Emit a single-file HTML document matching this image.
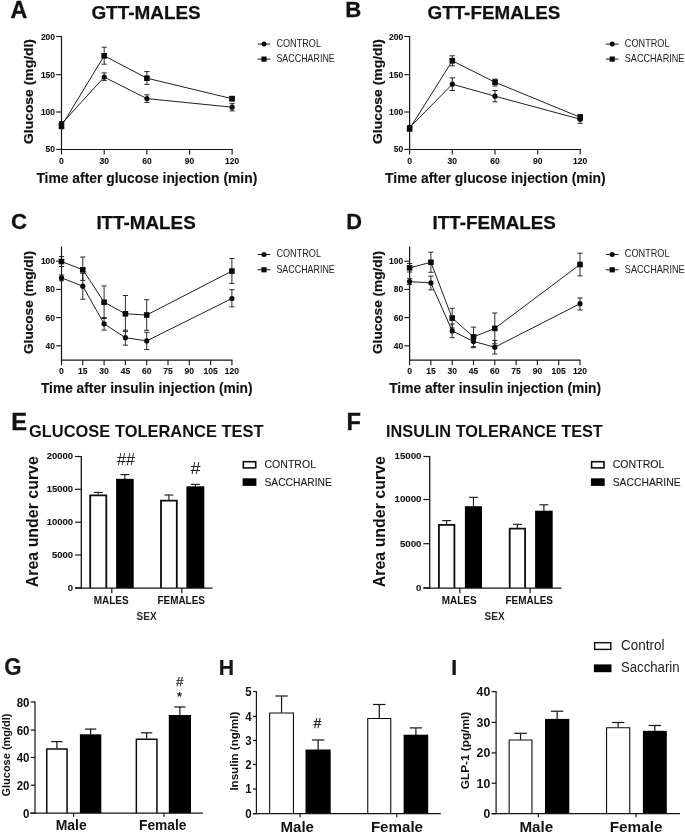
<!DOCTYPE html>
<html><head><meta charset="utf-8"><title>Figure</title>
<style>
html,body{margin:0;padding:0;background:#fff;width:685px;height:834px;overflow:hidden;}
svg{display:block;position:absolute;left:0;top:0;font-family:"Liberation Sans",sans-serif;will-change:transform;filter:grayscale(1) blur(0.3px);}
</style></head>
<body>
<svg width="685" height="834" viewBox="0 0 685 834">
<rect x="0" y="0" width="685" height="834" fill="#ffffff"/>
<text x="10.6" y="17.5" font-size="23.3" font-weight="bold" stroke="#111" stroke-width="0.3" stroke-linejoin="round" fill="#111" >A</text>
<text x="91.4" y="18.9" font-size="19.2" font-weight="bold" stroke="#111" stroke-width="0.25" stroke-linejoin="round" textLength="109.3" lengthAdjust="spacingAndGlyphs" fill="#111" >GTT-MALES</text>
<line x1="61.50" y1="36.00" x2="61.50" y2="150.10" stroke="#141414" stroke-width="1.2" stroke-linecap="butt"/>
<line x1="60.90" y1="149.50" x2="232.70" y2="149.50" stroke="#141414" stroke-width="1.2" stroke-linecap="butt"/>
<line x1="56.20" y1="36.50" x2="61.50" y2="36.50" stroke="#141414" stroke-width="1.1" stroke-linecap="butt"/>
<text x="55.0" y="39.5" font-size="9.7" font-weight="bold" stroke="#111" stroke-width="0.12" stroke-linejoin="round" text-anchor="end" textLength="14.1" lengthAdjust="spacingAndGlyphs" fill="#111" >200</text>
<line x1="56.20" y1="74.70" x2="61.50" y2="74.70" stroke="#141414" stroke-width="1.1" stroke-linecap="butt"/>
<text x="55.0" y="77.7" font-size="9.7" font-weight="bold" stroke="#111" stroke-width="0.12" stroke-linejoin="round" text-anchor="end" textLength="14.1" lengthAdjust="spacingAndGlyphs" fill="#111" >150</text>
<line x1="56.20" y1="112.00" x2="61.50" y2="112.00" stroke="#141414" stroke-width="1.1" stroke-linecap="butt"/>
<text x="55.0" y="115.0" font-size="9.7" font-weight="bold" stroke="#111" stroke-width="0.12" stroke-linejoin="round" text-anchor="end" textLength="14.1" lengthAdjust="spacingAndGlyphs" fill="#111" >100</text>
<line x1="56.20" y1="149.40" x2="61.50" y2="149.40" stroke="#141414" stroke-width="1.1" stroke-linecap="butt"/>
<text x="55.0" y="152.4" font-size="9.7" font-weight="bold" stroke="#111" stroke-width="0.12" stroke-linejoin="round" text-anchor="end" textLength="9.4" lengthAdjust="spacingAndGlyphs" fill="#111" >50</text>
<line x1="61.50" y1="149.50" x2="61.50" y2="154.50" stroke="#141414" stroke-width="1.1" stroke-linecap="butt"/>
<text x="61.5" y="164.0" font-size="9.8" font-weight="bold" stroke="#111" stroke-width="0.12" stroke-linejoin="round" text-anchor="middle" textLength="4.8" lengthAdjust="spacingAndGlyphs" fill="#111" >0</text>
<line x1="104.20" y1="149.50" x2="104.20" y2="154.50" stroke="#141414" stroke-width="1.1" stroke-linecap="butt"/>
<text x="104.2" y="164.0" font-size="9.8" font-weight="bold" stroke="#111" stroke-width="0.12" stroke-linejoin="round" text-anchor="middle" textLength="9.5" lengthAdjust="spacingAndGlyphs" fill="#111" >30</text>
<line x1="146.90" y1="149.50" x2="146.90" y2="154.50" stroke="#141414" stroke-width="1.1" stroke-linecap="butt"/>
<text x="146.9" y="164.0" font-size="9.8" font-weight="bold" stroke="#111" stroke-width="0.12" stroke-linejoin="round" text-anchor="middle" textLength="9.5" lengthAdjust="spacingAndGlyphs" fill="#111" >60</text>
<line x1="189.60" y1="149.50" x2="189.60" y2="154.50" stroke="#141414" stroke-width="1.1" stroke-linecap="butt"/>
<text x="189.6" y="164.0" font-size="9.8" font-weight="bold" stroke="#111" stroke-width="0.12" stroke-linejoin="round" text-anchor="middle" textLength="9.5" lengthAdjust="spacingAndGlyphs" fill="#111" >90</text>
<line x1="232.10" y1="149.50" x2="232.10" y2="154.50" stroke="#141414" stroke-width="1.1" stroke-linecap="butt"/>
<text x="232.1" y="164.0" font-size="9.8" font-weight="bold" stroke="#111" stroke-width="0.12" stroke-linejoin="round" text-anchor="middle" textLength="14.2" lengthAdjust="spacingAndGlyphs" fill="#111" >120</text>
<text x="36.4" y="182.6" font-size="14.2" font-weight="bold" stroke="#111" stroke-width="0.12" stroke-linejoin="round" textLength="220.9" lengthAdjust="spacingAndGlyphs" fill="#111" >Time after glucose injection (min)</text>
<text x="0" y="0" font-size="13.6" font-weight="bold" stroke="#111" stroke-width="0.2" stroke-linejoin="round" text-anchor="middle" textLength="105.0" lengthAdjust="spacingAndGlyphs" transform="translate(32.7,91.5) rotate(-90)" fill="#111" >Glucose (mg/dl)</text>
<polyline points="61.50,123.90 104.20,77.10 146.90,98.60 232.10,107.20" fill="none" stroke="#141414" stroke-width="0.95"/>
<polyline points="61.50,126.00 104.20,55.80 146.90,78.20 232.10,98.70" fill="none" stroke="#141414" stroke-width="0.95"/>
<line x1="61.50" y1="121.50" x2="61.50" y2="126.30" stroke="#141414" stroke-width="0.9" stroke-linecap="butt"/>
<line x1="58.90" y1="121.50" x2="64.10" y2="121.50" stroke="#141414" stroke-width="0.9" stroke-linecap="butt"/>
<line x1="58.90" y1="126.30" x2="64.10" y2="126.30" stroke="#141414" stroke-width="0.9" stroke-linecap="butt"/>
<line x1="104.20" y1="72.90" x2="104.20" y2="80.60" stroke="#141414" stroke-width="0.9" stroke-linecap="butt"/>
<line x1="101.60" y1="72.90" x2="106.80" y2="72.90" stroke="#141414" stroke-width="0.9" stroke-linecap="butt"/>
<line x1="101.60" y1="80.60" x2="106.80" y2="80.60" stroke="#141414" stroke-width="0.9" stroke-linecap="butt"/>
<line x1="146.90" y1="94.80" x2="146.90" y2="102.40" stroke="#141414" stroke-width="0.9" stroke-linecap="butt"/>
<line x1="144.30" y1="94.80" x2="149.50" y2="94.80" stroke="#141414" stroke-width="0.9" stroke-linecap="butt"/>
<line x1="144.30" y1="102.40" x2="149.50" y2="102.40" stroke="#141414" stroke-width="0.9" stroke-linecap="butt"/>
<line x1="232.10" y1="103.60" x2="232.10" y2="110.90" stroke="#141414" stroke-width="0.9" stroke-linecap="butt"/>
<line x1="229.50" y1="103.60" x2="234.70" y2="103.60" stroke="#141414" stroke-width="0.9" stroke-linecap="butt"/>
<line x1="229.50" y1="110.90" x2="234.70" y2="110.90" stroke="#141414" stroke-width="0.9" stroke-linecap="butt"/>
<line x1="61.50" y1="123.20" x2="61.50" y2="128.80" stroke="#141414" stroke-width="0.9" stroke-linecap="butt"/>
<line x1="58.90" y1="123.20" x2="64.10" y2="123.20" stroke="#141414" stroke-width="0.9" stroke-linecap="butt"/>
<line x1="58.90" y1="128.80" x2="64.10" y2="128.80" stroke="#141414" stroke-width="0.9" stroke-linecap="butt"/>
<line x1="104.20" y1="47.20" x2="104.20" y2="64.20" stroke="#141414" stroke-width="0.9" stroke-linecap="butt"/>
<line x1="101.60" y1="47.20" x2="106.80" y2="47.20" stroke="#141414" stroke-width="0.9" stroke-linecap="butt"/>
<line x1="101.60" y1="64.20" x2="106.80" y2="64.20" stroke="#141414" stroke-width="0.9" stroke-linecap="butt"/>
<line x1="146.90" y1="71.60" x2="146.90" y2="84.40" stroke="#141414" stroke-width="0.9" stroke-linecap="butt"/>
<line x1="144.30" y1="71.60" x2="149.50" y2="71.60" stroke="#141414" stroke-width="0.9" stroke-linecap="butt"/>
<line x1="144.30" y1="84.40" x2="149.50" y2="84.40" stroke="#141414" stroke-width="0.9" stroke-linecap="butt"/>
<line x1="232.10" y1="96.40" x2="232.10" y2="101.00" stroke="#141414" stroke-width="0.9" stroke-linecap="butt"/>
<line x1="229.50" y1="96.40" x2="234.70" y2="96.40" stroke="#141414" stroke-width="0.9" stroke-linecap="butt"/>
<line x1="229.50" y1="101.00" x2="234.70" y2="101.00" stroke="#141414" stroke-width="0.9" stroke-linecap="butt"/>
<circle cx="61.50" cy="123.90" r="2.6" fill="#0a0a0a"/>
<circle cx="104.20" cy="77.10" r="2.6" fill="#0a0a0a"/>
<circle cx="146.90" cy="98.60" r="2.6" fill="#0a0a0a"/>
<circle cx="232.10" cy="107.20" r="2.6" fill="#0a0a0a"/>
<rect x="58.70" y="123.20" width="5.60" height="5.60" fill="#0a0a0a"/>
<rect x="101.40" y="53.00" width="5.60" height="5.60" fill="#0a0a0a"/>
<rect x="144.10" y="75.40" width="5.60" height="5.60" fill="#0a0a0a"/>
<rect x="229.30" y="95.90" width="5.60" height="5.60" fill="#0a0a0a"/>
<line x1="257.70" y1="44.10" x2="270.30" y2="44.10" stroke="#141414" stroke-width="1.0" stroke-linecap="butt"/>
<line x1="257.70" y1="59.10" x2="270.30" y2="59.10" stroke="#141414" stroke-width="1.0" stroke-linecap="butt"/>
<circle cx="264.00" cy="44.10" r="2.5" fill="#0a0a0a"/>
<rect x="261.40" y="56.50" width="5.20" height="5.20" fill="#0a0a0a"/>
<text x="276.4" y="47.0" font-size="10.8" textLength="44.6" lengthAdjust="spacingAndGlyphs" fill="#222" >CONTROL</text>
<text x="276.4" y="62.2" font-size="10.8" textLength="58.4" lengthAdjust="spacingAndGlyphs" fill="#222" >SACCHARINE</text>
<text x="345.3" y="17.2" font-size="22.2" font-weight="bold" stroke="#111" stroke-width="0.3" stroke-linejoin="round" fill="#111" >B</text>
<text x="427.5" y="18.9" font-size="19.2" font-weight="bold" stroke="#111" stroke-width="0.25" stroke-linejoin="round" textLength="132.9" lengthAdjust="spacingAndGlyphs" fill="#111" >GTT-FEMALES</text>
<line x1="409.60" y1="36.00" x2="409.60" y2="150.10" stroke="#141414" stroke-width="1.2" stroke-linecap="butt"/>
<line x1="409.00" y1="149.50" x2="580.80" y2="149.50" stroke="#141414" stroke-width="1.2" stroke-linecap="butt"/>
<line x1="404.30" y1="36.50" x2="409.60" y2="36.50" stroke="#141414" stroke-width="1.1" stroke-linecap="butt"/>
<text x="403.1" y="39.5" font-size="9.7" font-weight="bold" stroke="#111" stroke-width="0.12" stroke-linejoin="round" text-anchor="end" textLength="14.1" lengthAdjust="spacingAndGlyphs" fill="#111" >200</text>
<line x1="404.30" y1="74.70" x2="409.60" y2="74.70" stroke="#141414" stroke-width="1.1" stroke-linecap="butt"/>
<text x="403.1" y="77.7" font-size="9.7" font-weight="bold" stroke="#111" stroke-width="0.12" stroke-linejoin="round" text-anchor="end" textLength="14.1" lengthAdjust="spacingAndGlyphs" fill="#111" >150</text>
<line x1="404.30" y1="112.00" x2="409.60" y2="112.00" stroke="#141414" stroke-width="1.1" stroke-linecap="butt"/>
<text x="403.1" y="115.0" font-size="9.7" font-weight="bold" stroke="#111" stroke-width="0.12" stroke-linejoin="round" text-anchor="end" textLength="14.1" lengthAdjust="spacingAndGlyphs" fill="#111" >100</text>
<line x1="404.30" y1="149.40" x2="409.60" y2="149.40" stroke="#141414" stroke-width="1.1" stroke-linecap="butt"/>
<text x="403.1" y="152.4" font-size="9.7" font-weight="bold" stroke="#111" stroke-width="0.12" stroke-linejoin="round" text-anchor="end" textLength="9.4" lengthAdjust="spacingAndGlyphs" fill="#111" >50</text>
<line x1="409.60" y1="149.50" x2="409.60" y2="154.50" stroke="#141414" stroke-width="1.1" stroke-linecap="butt"/>
<text x="409.6" y="164.0" font-size="9.8" font-weight="bold" stroke="#111" stroke-width="0.12" stroke-linejoin="round" text-anchor="middle" textLength="4.8" lengthAdjust="spacingAndGlyphs" fill="#111" >0</text>
<line x1="452.30" y1="149.50" x2="452.30" y2="154.50" stroke="#141414" stroke-width="1.1" stroke-linecap="butt"/>
<text x="452.3" y="164.0" font-size="9.8" font-weight="bold" stroke="#111" stroke-width="0.12" stroke-linejoin="round" text-anchor="middle" textLength="9.5" lengthAdjust="spacingAndGlyphs" fill="#111" >30</text>
<line x1="495.00" y1="149.50" x2="495.00" y2="154.50" stroke="#141414" stroke-width="1.1" stroke-linecap="butt"/>
<text x="495.0" y="164.0" font-size="9.8" font-weight="bold" stroke="#111" stroke-width="0.12" stroke-linejoin="round" text-anchor="middle" textLength="9.5" lengthAdjust="spacingAndGlyphs" fill="#111" >60</text>
<line x1="537.70" y1="149.50" x2="537.70" y2="154.50" stroke="#141414" stroke-width="1.1" stroke-linecap="butt"/>
<text x="537.7" y="164.0" font-size="9.8" font-weight="bold" stroke="#111" stroke-width="0.12" stroke-linejoin="round" text-anchor="middle" textLength="9.5" lengthAdjust="spacingAndGlyphs" fill="#111" >90</text>
<line x1="580.20" y1="149.50" x2="580.20" y2="154.50" stroke="#141414" stroke-width="1.1" stroke-linecap="butt"/>
<text x="580.2" y="164.0" font-size="9.8" font-weight="bold" stroke="#111" stroke-width="0.12" stroke-linejoin="round" text-anchor="middle" textLength="14.2" lengthAdjust="spacingAndGlyphs" fill="#111" >120</text>
<text x="385.1" y="182.6" font-size="14.2" font-weight="bold" stroke="#111" stroke-width="0.12" stroke-linejoin="round" textLength="220.5" lengthAdjust="spacingAndGlyphs" fill="#111" >Time after glucose injection (min)</text>
<text x="0" y="0" font-size="13.6" font-weight="bold" stroke="#111" stroke-width="0.2" stroke-linejoin="round" text-anchor="middle" textLength="105.0" lengthAdjust="spacingAndGlyphs" transform="translate(381.9,91.5) rotate(-90)" fill="#111" >Glucose (mg/dl)</text>
<polyline points="409.60,127.60 452.30,84.20 495.00,96.20 580.20,119.20" fill="none" stroke="#141414" stroke-width="0.95"/>
<polyline points="409.60,128.80 452.30,60.80 495.00,82.20 580.20,117.30" fill="none" stroke="#141414" stroke-width="0.95"/>
<line x1="409.60" y1="125.60" x2="409.60" y2="129.60" stroke="#141414" stroke-width="0.9" stroke-linecap="butt"/>
<line x1="407.00" y1="125.60" x2="412.20" y2="125.60" stroke="#141414" stroke-width="0.9" stroke-linecap="butt"/>
<line x1="407.00" y1="129.60" x2="412.20" y2="129.60" stroke="#141414" stroke-width="0.9" stroke-linecap="butt"/>
<line x1="452.30" y1="77.90" x2="452.30" y2="90.50" stroke="#141414" stroke-width="0.9" stroke-linecap="butt"/>
<line x1="449.70" y1="77.90" x2="454.90" y2="77.90" stroke="#141414" stroke-width="0.9" stroke-linecap="butt"/>
<line x1="449.70" y1="90.50" x2="454.90" y2="90.50" stroke="#141414" stroke-width="0.9" stroke-linecap="butt"/>
<line x1="495.00" y1="90.50" x2="495.00" y2="101.80" stroke="#141414" stroke-width="0.9" stroke-linecap="butt"/>
<line x1="492.40" y1="90.50" x2="497.60" y2="90.50" stroke="#141414" stroke-width="0.9" stroke-linecap="butt"/>
<line x1="492.40" y1="101.80" x2="497.60" y2="101.80" stroke="#141414" stroke-width="0.9" stroke-linecap="butt"/>
<line x1="580.20" y1="115.40" x2="580.20" y2="123.30" stroke="#141414" stroke-width="0.9" stroke-linecap="butt"/>
<line x1="577.60" y1="115.40" x2="582.80" y2="115.40" stroke="#141414" stroke-width="0.9" stroke-linecap="butt"/>
<line x1="577.60" y1="123.30" x2="582.80" y2="123.30" stroke="#141414" stroke-width="0.9" stroke-linecap="butt"/>
<line x1="409.60" y1="126.60" x2="409.60" y2="131.00" stroke="#141414" stroke-width="0.9" stroke-linecap="butt"/>
<line x1="407.00" y1="126.60" x2="412.20" y2="126.60" stroke="#141414" stroke-width="0.9" stroke-linecap="butt"/>
<line x1="407.00" y1="131.00" x2="412.20" y2="131.00" stroke="#141414" stroke-width="0.9" stroke-linecap="butt"/>
<line x1="452.30" y1="55.80" x2="452.30" y2="65.80" stroke="#141414" stroke-width="0.9" stroke-linecap="butt"/>
<line x1="449.70" y1="55.80" x2="454.90" y2="55.80" stroke="#141414" stroke-width="0.9" stroke-linecap="butt"/>
<line x1="449.70" y1="65.80" x2="454.90" y2="65.80" stroke="#141414" stroke-width="0.9" stroke-linecap="butt"/>
<line x1="495.00" y1="79.10" x2="495.00" y2="86.00" stroke="#141414" stroke-width="0.9" stroke-linecap="butt"/>
<line x1="492.40" y1="79.10" x2="497.60" y2="79.10" stroke="#141414" stroke-width="0.9" stroke-linecap="butt"/>
<line x1="492.40" y1="86.00" x2="497.60" y2="86.00" stroke="#141414" stroke-width="0.9" stroke-linecap="butt"/>
<line x1="580.20" y1="114.60" x2="580.20" y2="120.00" stroke="#141414" stroke-width="0.9" stroke-linecap="butt"/>
<line x1="577.60" y1="114.60" x2="582.80" y2="114.60" stroke="#141414" stroke-width="0.9" stroke-linecap="butt"/>
<line x1="577.60" y1="120.00" x2="582.80" y2="120.00" stroke="#141414" stroke-width="0.9" stroke-linecap="butt"/>
<circle cx="409.60" cy="127.60" r="2.6" fill="#0a0a0a"/>
<circle cx="452.30" cy="84.20" r="2.6" fill="#0a0a0a"/>
<circle cx="495.00" cy="96.20" r="2.6" fill="#0a0a0a"/>
<circle cx="580.20" cy="119.20" r="2.6" fill="#0a0a0a"/>
<rect x="406.80" y="126.00" width="5.60" height="5.60" fill="#0a0a0a"/>
<rect x="449.50" y="58.00" width="5.60" height="5.60" fill="#0a0a0a"/>
<rect x="492.20" y="79.40" width="5.60" height="5.60" fill="#0a0a0a"/>
<rect x="577.40" y="114.50" width="5.60" height="5.60" fill="#0a0a0a"/>
<line x1="605.90" y1="44.10" x2="618.50" y2="44.10" stroke="#141414" stroke-width="1.0" stroke-linecap="butt"/>
<line x1="605.90" y1="59.10" x2="618.50" y2="59.10" stroke="#141414" stroke-width="1.0" stroke-linecap="butt"/>
<circle cx="612.20" cy="44.10" r="2.5" fill="#0a0a0a"/>
<rect x="609.60" y="56.50" width="5.20" height="5.20" fill="#0a0a0a"/>
<text x="624.8" y="47.0" font-size="10.8" textLength="44.8" lengthAdjust="spacingAndGlyphs" fill="#222" >CONTROL</text>
<text x="624.8" y="62.2" font-size="10.8" textLength="59.6" lengthAdjust="spacingAndGlyphs" fill="#222" >SACCHARINE</text>
<text x="11.1" y="229.4" font-size="22.2" font-weight="bold" stroke="#111" stroke-width="0.3" stroke-linejoin="round" fill="#111" >C</text>
<text x="96.4" y="228.9" font-size="19.2" font-weight="bold" stroke="#111" stroke-width="0.25" stroke-linejoin="round" textLength="99.3" lengthAdjust="spacingAndGlyphs" fill="#111" >ITT-MALES</text>
<line x1="61.50" y1="246.50" x2="61.50" y2="360.80" stroke="#141414" stroke-width="1.2" stroke-linecap="butt"/>
<line x1="60.90" y1="360.20" x2="232.50" y2="360.20" stroke="#141414" stroke-width="1.2" stroke-linecap="butt"/>
<line x1="56.20" y1="261.20" x2="61.50" y2="261.20" stroke="#141414" stroke-width="1.1" stroke-linecap="butt"/>
<text x="55.0" y="264.2" font-size="9.7" font-weight="bold" stroke="#111" stroke-width="0.12" stroke-linejoin="round" text-anchor="end" textLength="14.1" lengthAdjust="spacingAndGlyphs" fill="#111" >100</text>
<line x1="56.20" y1="289.40" x2="61.50" y2="289.40" stroke="#141414" stroke-width="1.1" stroke-linecap="butt"/>
<text x="55.0" y="292.4" font-size="9.7" font-weight="bold" stroke="#111" stroke-width="0.12" stroke-linejoin="round" text-anchor="end" textLength="9.4" lengthAdjust="spacingAndGlyphs" fill="#111" >80</text>
<line x1="56.20" y1="317.60" x2="61.50" y2="317.60" stroke="#141414" stroke-width="1.1" stroke-linecap="butt"/>
<text x="55.0" y="320.6" font-size="9.7" font-weight="bold" stroke="#111" stroke-width="0.12" stroke-linejoin="round" text-anchor="end" textLength="9.4" lengthAdjust="spacingAndGlyphs" fill="#111" >60</text>
<line x1="56.20" y1="345.80" x2="61.50" y2="345.80" stroke="#141414" stroke-width="1.1" stroke-linecap="butt"/>
<text x="55.0" y="348.8" font-size="9.7" font-weight="bold" stroke="#111" stroke-width="0.12" stroke-linejoin="round" text-anchor="end" textLength="9.4" lengthAdjust="spacingAndGlyphs" fill="#111" >40</text>
<line x1="61.50" y1="360.20" x2="61.50" y2="365.20" stroke="#141414" stroke-width="1.1" stroke-linecap="butt"/>
<text x="61.5" y="373.8" font-size="9.8" font-weight="bold" stroke="#111" stroke-width="0.12" stroke-linejoin="round" text-anchor="middle" textLength="4.8" lengthAdjust="spacingAndGlyphs" fill="#111" >0</text>
<line x1="82.80" y1="360.20" x2="82.80" y2="365.20" stroke="#141414" stroke-width="1.1" stroke-linecap="butt"/>
<text x="82.8" y="373.8" font-size="9.8" font-weight="bold" stroke="#111" stroke-width="0.12" stroke-linejoin="round" text-anchor="middle" textLength="9.5" lengthAdjust="spacingAndGlyphs" fill="#111" >15</text>
<line x1="104.10" y1="360.20" x2="104.10" y2="365.20" stroke="#141414" stroke-width="1.1" stroke-linecap="butt"/>
<text x="104.1" y="373.8" font-size="9.8" font-weight="bold" stroke="#111" stroke-width="0.12" stroke-linejoin="round" text-anchor="middle" textLength="9.5" lengthAdjust="spacingAndGlyphs" fill="#111" >30</text>
<line x1="125.40" y1="360.20" x2="125.40" y2="365.20" stroke="#141414" stroke-width="1.1" stroke-linecap="butt"/>
<text x="125.4" y="373.8" font-size="9.8" font-weight="bold" stroke="#111" stroke-width="0.12" stroke-linejoin="round" text-anchor="middle" textLength="9.5" lengthAdjust="spacingAndGlyphs" fill="#111" >45</text>
<line x1="146.70" y1="360.20" x2="146.70" y2="365.20" stroke="#141414" stroke-width="1.1" stroke-linecap="butt"/>
<text x="146.7" y="373.8" font-size="9.8" font-weight="bold" stroke="#111" stroke-width="0.12" stroke-linejoin="round" text-anchor="middle" textLength="9.5" lengthAdjust="spacingAndGlyphs" fill="#111" >60</text>
<line x1="168.00" y1="360.20" x2="168.00" y2="365.20" stroke="#141414" stroke-width="1.1" stroke-linecap="butt"/>
<text x="168.0" y="373.8" font-size="9.8" font-weight="bold" stroke="#111" stroke-width="0.12" stroke-linejoin="round" text-anchor="middle" textLength="9.5" lengthAdjust="spacingAndGlyphs" fill="#111" >75</text>
<line x1="189.30" y1="360.20" x2="189.30" y2="365.20" stroke="#141414" stroke-width="1.1" stroke-linecap="butt"/>
<text x="189.3" y="373.8" font-size="9.8" font-weight="bold" stroke="#111" stroke-width="0.12" stroke-linejoin="round" text-anchor="middle" textLength="9.5" lengthAdjust="spacingAndGlyphs" fill="#111" >90</text>
<line x1="210.60" y1="360.20" x2="210.60" y2="365.20" stroke="#141414" stroke-width="1.1" stroke-linecap="butt"/>
<text x="210.6" y="373.8" font-size="9.8" font-weight="bold" stroke="#111" stroke-width="0.12" stroke-linejoin="round" text-anchor="middle" textLength="14.2" lengthAdjust="spacingAndGlyphs" fill="#111" >105</text>
<line x1="231.90" y1="360.20" x2="231.90" y2="365.20" stroke="#141414" stroke-width="1.1" stroke-linecap="butt"/>
<text x="231.9" y="373.8" font-size="9.8" font-weight="bold" stroke="#111" stroke-width="0.12" stroke-linejoin="round" text-anchor="middle" textLength="14.2" lengthAdjust="spacingAndGlyphs" fill="#111" >120</text>
<text x="40.9" y="392.6" font-size="14.2" font-weight="bold" stroke="#111" stroke-width="0.12" stroke-linejoin="round" textLength="211.7" lengthAdjust="spacingAndGlyphs" fill="#111" >Time after insulin injection (min)</text>
<text x="0" y="0" font-size="13.6" font-weight="bold" stroke="#111" stroke-width="0.2" stroke-linejoin="round" text-anchor="middle" textLength="103.0" lengthAdjust="spacingAndGlyphs" transform="translate(32.7,302.5) rotate(-90)" fill="#111" >Glucose (mg/dl)</text>
<polyline points="61.50,277.90 82.80,286.20 104.10,323.80 125.40,337.70 146.70,340.90 231.90,298.50" fill="none" stroke="#141414" stroke-width="0.95"/>
<polyline points="61.50,261.50 82.80,269.80 104.10,302.20 125.40,313.80 146.70,315.00 231.90,271.10" fill="none" stroke="#141414" stroke-width="0.95"/>
<line x1="61.50" y1="275.00" x2="61.50" y2="280.80" stroke="#141414" stroke-width="0.9" stroke-linecap="butt"/>
<line x1="58.90" y1="275.00" x2="64.10" y2="275.00" stroke="#141414" stroke-width="0.9" stroke-linecap="butt"/>
<line x1="58.90" y1="280.80" x2="64.10" y2="280.80" stroke="#141414" stroke-width="0.9" stroke-linecap="butt"/>
<line x1="82.80" y1="273.20" x2="82.80" y2="299.20" stroke="#141414" stroke-width="0.9" stroke-linecap="butt"/>
<line x1="80.20" y1="273.20" x2="85.40" y2="273.20" stroke="#141414" stroke-width="0.9" stroke-linecap="butt"/>
<line x1="80.20" y1="299.20" x2="85.40" y2="299.20" stroke="#141414" stroke-width="0.9" stroke-linecap="butt"/>
<line x1="104.10" y1="317.50" x2="104.10" y2="330.10" stroke="#141414" stroke-width="0.9" stroke-linecap="butt"/>
<line x1="101.50" y1="317.50" x2="106.70" y2="317.50" stroke="#141414" stroke-width="0.9" stroke-linecap="butt"/>
<line x1="101.50" y1="330.10" x2="106.70" y2="330.10" stroke="#141414" stroke-width="0.9" stroke-linecap="butt"/>
<line x1="125.40" y1="330.20" x2="125.40" y2="345.20" stroke="#141414" stroke-width="0.9" stroke-linecap="butt"/>
<line x1="122.80" y1="330.20" x2="128.00" y2="330.20" stroke="#141414" stroke-width="0.9" stroke-linecap="butt"/>
<line x1="122.80" y1="345.20" x2="128.00" y2="345.20" stroke="#141414" stroke-width="0.9" stroke-linecap="butt"/>
<line x1="146.70" y1="332.30" x2="146.70" y2="349.50" stroke="#141414" stroke-width="0.9" stroke-linecap="butt"/>
<line x1="144.10" y1="332.30" x2="149.30" y2="332.30" stroke="#141414" stroke-width="0.9" stroke-linecap="butt"/>
<line x1="144.10" y1="349.50" x2="149.30" y2="349.50" stroke="#141414" stroke-width="0.9" stroke-linecap="butt"/>
<line x1="231.90" y1="289.70" x2="231.90" y2="306.80" stroke="#141414" stroke-width="0.9" stroke-linecap="butt"/>
<line x1="229.30" y1="289.70" x2="234.50" y2="289.70" stroke="#141414" stroke-width="0.9" stroke-linecap="butt"/>
<line x1="229.30" y1="306.80" x2="234.50" y2="306.80" stroke="#141414" stroke-width="0.9" stroke-linecap="butt"/>
<line x1="61.50" y1="256.50" x2="61.50" y2="266.50" stroke="#141414" stroke-width="0.9" stroke-linecap="butt"/>
<line x1="58.90" y1="256.50" x2="64.10" y2="256.50" stroke="#141414" stroke-width="0.9" stroke-linecap="butt"/>
<line x1="58.90" y1="266.50" x2="64.10" y2="266.50" stroke="#141414" stroke-width="0.9" stroke-linecap="butt"/>
<line x1="82.80" y1="257.00" x2="82.80" y2="280.40" stroke="#141414" stroke-width="0.9" stroke-linecap="butt"/>
<line x1="80.20" y1="257.00" x2="85.40" y2="257.00" stroke="#141414" stroke-width="0.9" stroke-linecap="butt"/>
<line x1="80.20" y1="280.40" x2="85.40" y2="280.40" stroke="#141414" stroke-width="0.9" stroke-linecap="butt"/>
<line x1="104.10" y1="285.90" x2="104.10" y2="318.50" stroke="#141414" stroke-width="0.9" stroke-linecap="butt"/>
<line x1="101.50" y1="285.90" x2="106.70" y2="285.90" stroke="#141414" stroke-width="0.9" stroke-linecap="butt"/>
<line x1="101.50" y1="318.50" x2="106.70" y2="318.50" stroke="#141414" stroke-width="0.9" stroke-linecap="butt"/>
<line x1="125.40" y1="295.50" x2="125.40" y2="331.60" stroke="#141414" stroke-width="0.9" stroke-linecap="butt"/>
<line x1="122.80" y1="295.50" x2="128.00" y2="295.50" stroke="#141414" stroke-width="0.9" stroke-linecap="butt"/>
<line x1="122.80" y1="331.60" x2="128.00" y2="331.60" stroke="#141414" stroke-width="0.9" stroke-linecap="butt"/>
<line x1="146.70" y1="299.70" x2="146.70" y2="330.30" stroke="#141414" stroke-width="0.9" stroke-linecap="butt"/>
<line x1="144.10" y1="299.70" x2="149.30" y2="299.70" stroke="#141414" stroke-width="0.9" stroke-linecap="butt"/>
<line x1="144.10" y1="330.30" x2="149.30" y2="330.30" stroke="#141414" stroke-width="0.9" stroke-linecap="butt"/>
<line x1="231.90" y1="258.50" x2="231.90" y2="283.40" stroke="#141414" stroke-width="0.9" stroke-linecap="butt"/>
<line x1="229.30" y1="258.50" x2="234.50" y2="258.50" stroke="#141414" stroke-width="0.9" stroke-linecap="butt"/>
<line x1="229.30" y1="283.40" x2="234.50" y2="283.40" stroke="#141414" stroke-width="0.9" stroke-linecap="butt"/>
<circle cx="61.50" cy="277.90" r="2.6" fill="#0a0a0a"/>
<circle cx="82.80" cy="286.20" r="2.6" fill="#0a0a0a"/>
<circle cx="104.10" cy="323.80" r="2.6" fill="#0a0a0a"/>
<circle cx="125.40" cy="337.70" r="2.6" fill="#0a0a0a"/>
<circle cx="146.70" cy="340.90" r="2.6" fill="#0a0a0a"/>
<circle cx="231.90" cy="298.50" r="2.6" fill="#0a0a0a"/>
<rect x="58.70" y="258.70" width="5.60" height="5.60" fill="#0a0a0a"/>
<rect x="80.00" y="267.00" width="5.60" height="5.60" fill="#0a0a0a"/>
<rect x="101.30" y="299.40" width="5.60" height="5.60" fill="#0a0a0a"/>
<rect x="122.60" y="311.00" width="5.60" height="5.60" fill="#0a0a0a"/>
<rect x="143.90" y="312.20" width="5.60" height="5.60" fill="#0a0a0a"/>
<rect x="229.10" y="268.30" width="5.60" height="5.60" fill="#0a0a0a"/>
<line x1="257.70" y1="254.50" x2="270.30" y2="254.50" stroke="#141414" stroke-width="1.0" stroke-linecap="butt"/>
<line x1="257.70" y1="269.80" x2="270.30" y2="269.80" stroke="#141414" stroke-width="1.0" stroke-linecap="butt"/>
<circle cx="264.00" cy="254.50" r="2.5" fill="#0a0a0a"/>
<rect x="261.40" y="267.20" width="5.20" height="5.20" fill="#0a0a0a"/>
<text x="276.4" y="257.4" font-size="10.8" textLength="44.6" lengthAdjust="spacingAndGlyphs" fill="#222" >CONTROL</text>
<text x="276.4" y="272.9" font-size="10.8" textLength="58.4" lengthAdjust="spacingAndGlyphs" fill="#222" >SACCHARINE</text>
<text x="346.3" y="229.2" font-size="21.8" font-weight="bold" stroke="#111" stroke-width="0.3" stroke-linejoin="round" fill="#111" >D</text>
<text x="432.5" y="228.9" font-size="19.2" font-weight="bold" stroke="#111" stroke-width="0.25" stroke-linejoin="round" textLength="123.4" lengthAdjust="spacingAndGlyphs" fill="#111" >ITT-FEMALES</text>
<line x1="409.60" y1="246.50" x2="409.60" y2="360.80" stroke="#141414" stroke-width="1.2" stroke-linecap="butt"/>
<line x1="409.00" y1="360.20" x2="580.60" y2="360.20" stroke="#141414" stroke-width="1.2" stroke-linecap="butt"/>
<line x1="404.30" y1="261.20" x2="409.60" y2="261.20" stroke="#141414" stroke-width="1.1" stroke-linecap="butt"/>
<text x="403.1" y="264.2" font-size="9.7" font-weight="bold" stroke="#111" stroke-width="0.12" stroke-linejoin="round" text-anchor="end" textLength="14.1" lengthAdjust="spacingAndGlyphs" fill="#111" >100</text>
<line x1="404.30" y1="289.40" x2="409.60" y2="289.40" stroke="#141414" stroke-width="1.1" stroke-linecap="butt"/>
<text x="403.1" y="292.4" font-size="9.7" font-weight="bold" stroke="#111" stroke-width="0.12" stroke-linejoin="round" text-anchor="end" textLength="9.4" lengthAdjust="spacingAndGlyphs" fill="#111" >80</text>
<line x1="404.30" y1="317.60" x2="409.60" y2="317.60" stroke="#141414" stroke-width="1.1" stroke-linecap="butt"/>
<text x="403.1" y="320.6" font-size="9.7" font-weight="bold" stroke="#111" stroke-width="0.12" stroke-linejoin="round" text-anchor="end" textLength="9.4" lengthAdjust="spacingAndGlyphs" fill="#111" >60</text>
<line x1="404.30" y1="345.80" x2="409.60" y2="345.80" stroke="#141414" stroke-width="1.1" stroke-linecap="butt"/>
<text x="403.1" y="348.8" font-size="9.7" font-weight="bold" stroke="#111" stroke-width="0.12" stroke-linejoin="round" text-anchor="end" textLength="9.4" lengthAdjust="spacingAndGlyphs" fill="#111" >40</text>
<line x1="409.60" y1="360.20" x2="409.60" y2="365.20" stroke="#141414" stroke-width="1.1" stroke-linecap="butt"/>
<text x="409.6" y="373.8" font-size="9.8" font-weight="bold" stroke="#111" stroke-width="0.12" stroke-linejoin="round" text-anchor="middle" textLength="4.8" lengthAdjust="spacingAndGlyphs" fill="#111" >0</text>
<line x1="430.90" y1="360.20" x2="430.90" y2="365.20" stroke="#141414" stroke-width="1.1" stroke-linecap="butt"/>
<text x="430.9" y="373.8" font-size="9.8" font-weight="bold" stroke="#111" stroke-width="0.12" stroke-linejoin="round" text-anchor="middle" textLength="9.5" lengthAdjust="spacingAndGlyphs" fill="#111" >15</text>
<line x1="452.20" y1="360.20" x2="452.20" y2="365.20" stroke="#141414" stroke-width="1.1" stroke-linecap="butt"/>
<text x="452.2" y="373.8" font-size="9.8" font-weight="bold" stroke="#111" stroke-width="0.12" stroke-linejoin="round" text-anchor="middle" textLength="9.5" lengthAdjust="spacingAndGlyphs" fill="#111" >30</text>
<line x1="473.50" y1="360.20" x2="473.50" y2="365.20" stroke="#141414" stroke-width="1.1" stroke-linecap="butt"/>
<text x="473.5" y="373.8" font-size="9.8" font-weight="bold" stroke="#111" stroke-width="0.12" stroke-linejoin="round" text-anchor="middle" textLength="9.5" lengthAdjust="spacingAndGlyphs" fill="#111" >45</text>
<line x1="494.80" y1="360.20" x2="494.80" y2="365.20" stroke="#141414" stroke-width="1.1" stroke-linecap="butt"/>
<text x="494.8" y="373.8" font-size="9.8" font-weight="bold" stroke="#111" stroke-width="0.12" stroke-linejoin="round" text-anchor="middle" textLength="9.5" lengthAdjust="spacingAndGlyphs" fill="#111" >60</text>
<line x1="516.10" y1="360.20" x2="516.10" y2="365.20" stroke="#141414" stroke-width="1.1" stroke-linecap="butt"/>
<text x="516.1" y="373.8" font-size="9.8" font-weight="bold" stroke="#111" stroke-width="0.12" stroke-linejoin="round" text-anchor="middle" textLength="9.5" lengthAdjust="spacingAndGlyphs" fill="#111" >75</text>
<line x1="537.40" y1="360.20" x2="537.40" y2="365.20" stroke="#141414" stroke-width="1.1" stroke-linecap="butt"/>
<text x="537.4" y="373.8" font-size="9.8" font-weight="bold" stroke="#111" stroke-width="0.12" stroke-linejoin="round" text-anchor="middle" textLength="9.5" lengthAdjust="spacingAndGlyphs" fill="#111" >90</text>
<line x1="558.70" y1="360.20" x2="558.70" y2="365.20" stroke="#141414" stroke-width="1.1" stroke-linecap="butt"/>
<text x="558.7" y="373.8" font-size="9.8" font-weight="bold" stroke="#111" stroke-width="0.12" stroke-linejoin="round" text-anchor="middle" textLength="14.2" lengthAdjust="spacingAndGlyphs" fill="#111" >105</text>
<line x1="580.00" y1="360.20" x2="580.00" y2="365.20" stroke="#141414" stroke-width="1.1" stroke-linecap="butt"/>
<text x="580.0" y="373.8" font-size="9.8" font-weight="bold" stroke="#111" stroke-width="0.12" stroke-linejoin="round" text-anchor="middle" textLength="14.2" lengthAdjust="spacingAndGlyphs" fill="#111" >120</text>
<text x="389.2" y="392.6" font-size="14.2" font-weight="bold" stroke="#111" stroke-width="0.12" stroke-linejoin="round" textLength="211.9" lengthAdjust="spacingAndGlyphs" fill="#111" >Time after insulin injection (min)</text>
<text x="0" y="0" font-size="13.6" font-weight="bold" stroke="#111" stroke-width="0.2" stroke-linejoin="round" text-anchor="middle" textLength="103.0" lengthAdjust="spacingAndGlyphs" transform="translate(381.9,302.5) rotate(-90)" fill="#111" >Glucose (mg/dl)</text>
<polyline points="409.60,281.60 430.90,282.90 452.20,330.90 473.50,341.40 494.80,347.20 580.00,303.70" fill="none" stroke="#141414" stroke-width="0.95"/>
<polyline points="409.60,267.80 430.90,262.30 452.20,318.10 473.50,336.90 494.80,328.40 580.00,264.50" fill="none" stroke="#141414" stroke-width="0.95"/>
<line x1="409.60" y1="278.60" x2="409.60" y2="284.60" stroke="#141414" stroke-width="0.9" stroke-linecap="butt"/>
<line x1="407.00" y1="278.60" x2="412.20" y2="278.60" stroke="#141414" stroke-width="0.9" stroke-linecap="butt"/>
<line x1="407.00" y1="284.60" x2="412.20" y2="284.60" stroke="#141414" stroke-width="0.9" stroke-linecap="butt"/>
<line x1="430.90" y1="276.10" x2="430.90" y2="289.90" stroke="#141414" stroke-width="0.9" stroke-linecap="butt"/>
<line x1="428.30" y1="276.10" x2="433.50" y2="276.10" stroke="#141414" stroke-width="0.9" stroke-linecap="butt"/>
<line x1="428.30" y1="289.90" x2="433.50" y2="289.90" stroke="#141414" stroke-width="0.9" stroke-linecap="butt"/>
<line x1="452.20" y1="324.00" x2="452.20" y2="337.70" stroke="#141414" stroke-width="0.9" stroke-linecap="butt"/>
<line x1="449.60" y1="324.00" x2="454.80" y2="324.00" stroke="#141414" stroke-width="0.9" stroke-linecap="butt"/>
<line x1="449.60" y1="337.70" x2="454.80" y2="337.70" stroke="#141414" stroke-width="0.9" stroke-linecap="butt"/>
<line x1="473.50" y1="335.00" x2="473.50" y2="347.70" stroke="#141414" stroke-width="0.9" stroke-linecap="butt"/>
<line x1="470.90" y1="335.00" x2="476.10" y2="335.00" stroke="#141414" stroke-width="0.9" stroke-linecap="butt"/>
<line x1="470.90" y1="347.70" x2="476.10" y2="347.70" stroke="#141414" stroke-width="0.9" stroke-linecap="butt"/>
<line x1="494.80" y1="340.40" x2="494.80" y2="354.00" stroke="#141414" stroke-width="0.9" stroke-linecap="butt"/>
<line x1="492.20" y1="340.40" x2="497.40" y2="340.40" stroke="#141414" stroke-width="0.9" stroke-linecap="butt"/>
<line x1="492.20" y1="354.00" x2="497.40" y2="354.00" stroke="#141414" stroke-width="0.9" stroke-linecap="butt"/>
<line x1="580.00" y1="298.00" x2="580.00" y2="310.00" stroke="#141414" stroke-width="0.9" stroke-linecap="butt"/>
<line x1="577.40" y1="298.00" x2="582.60" y2="298.00" stroke="#141414" stroke-width="0.9" stroke-linecap="butt"/>
<line x1="577.40" y1="310.00" x2="582.60" y2="310.00" stroke="#141414" stroke-width="0.9" stroke-linecap="butt"/>
<line x1="409.60" y1="263.50" x2="409.60" y2="272.00" stroke="#141414" stroke-width="0.9" stroke-linecap="butt"/>
<line x1="407.00" y1="263.50" x2="412.20" y2="263.50" stroke="#141414" stroke-width="0.9" stroke-linecap="butt"/>
<line x1="407.00" y1="272.00" x2="412.20" y2="272.00" stroke="#141414" stroke-width="0.9" stroke-linecap="butt"/>
<line x1="430.90" y1="252.20" x2="430.90" y2="272.30" stroke="#141414" stroke-width="0.9" stroke-linecap="butt"/>
<line x1="428.30" y1="252.20" x2="433.50" y2="252.20" stroke="#141414" stroke-width="0.9" stroke-linecap="butt"/>
<line x1="428.30" y1="272.30" x2="433.50" y2="272.30" stroke="#141414" stroke-width="0.9" stroke-linecap="butt"/>
<line x1="452.20" y1="308.30" x2="452.20" y2="328.00" stroke="#141414" stroke-width="0.9" stroke-linecap="butt"/>
<line x1="449.60" y1="308.30" x2="454.80" y2="308.30" stroke="#141414" stroke-width="0.9" stroke-linecap="butt"/>
<line x1="449.60" y1="328.00" x2="454.80" y2="328.00" stroke="#141414" stroke-width="0.9" stroke-linecap="butt"/>
<line x1="473.50" y1="327.10" x2="473.50" y2="346.70" stroke="#141414" stroke-width="0.9" stroke-linecap="butt"/>
<line x1="470.90" y1="327.10" x2="476.10" y2="327.10" stroke="#141414" stroke-width="0.9" stroke-linecap="butt"/>
<line x1="470.90" y1="346.70" x2="476.10" y2="346.70" stroke="#141414" stroke-width="0.9" stroke-linecap="butt"/>
<line x1="494.80" y1="313.00" x2="494.80" y2="343.80" stroke="#141414" stroke-width="0.9" stroke-linecap="butt"/>
<line x1="492.20" y1="313.00" x2="497.40" y2="313.00" stroke="#141414" stroke-width="0.9" stroke-linecap="butt"/>
<line x1="492.20" y1="343.80" x2="497.40" y2="343.80" stroke="#141414" stroke-width="0.9" stroke-linecap="butt"/>
<line x1="580.00" y1="253.20" x2="580.00" y2="275.90" stroke="#141414" stroke-width="0.9" stroke-linecap="butt"/>
<line x1="577.40" y1="253.20" x2="582.60" y2="253.20" stroke="#141414" stroke-width="0.9" stroke-linecap="butt"/>
<line x1="577.40" y1="275.90" x2="582.60" y2="275.90" stroke="#141414" stroke-width="0.9" stroke-linecap="butt"/>
<circle cx="409.60" cy="281.60" r="2.6" fill="#0a0a0a"/>
<circle cx="430.90" cy="282.90" r="2.6" fill="#0a0a0a"/>
<circle cx="452.20" cy="330.90" r="2.6" fill="#0a0a0a"/>
<circle cx="473.50" cy="341.40" r="2.6" fill="#0a0a0a"/>
<circle cx="494.80" cy="347.20" r="2.6" fill="#0a0a0a"/>
<circle cx="580.00" cy="303.70" r="2.6" fill="#0a0a0a"/>
<rect x="406.80" y="265.00" width="5.60" height="5.60" fill="#0a0a0a"/>
<rect x="428.10" y="259.50" width="5.60" height="5.60" fill="#0a0a0a"/>
<rect x="449.40" y="315.30" width="5.60" height="5.60" fill="#0a0a0a"/>
<rect x="470.70" y="334.10" width="5.60" height="5.60" fill="#0a0a0a"/>
<rect x="492.00" y="325.60" width="5.60" height="5.60" fill="#0a0a0a"/>
<rect x="577.20" y="261.70" width="5.60" height="5.60" fill="#0a0a0a"/>
<line x1="605.90" y1="254.50" x2="618.50" y2="254.50" stroke="#141414" stroke-width="1.0" stroke-linecap="butt"/>
<line x1="605.90" y1="269.80" x2="618.50" y2="269.80" stroke="#141414" stroke-width="1.0" stroke-linecap="butt"/>
<circle cx="612.20" cy="254.50" r="2.5" fill="#0a0a0a"/>
<rect x="609.60" y="267.20" width="5.20" height="5.20" fill="#0a0a0a"/>
<text x="624.8" y="257.4" font-size="10.8" textLength="44.8" lengthAdjust="spacingAndGlyphs" fill="#222" >CONTROL</text>
<text x="624.8" y="272.9" font-size="10.8" textLength="59.8" lengthAdjust="spacingAndGlyphs" fill="#222" >SACCHARINE</text>
<text x="11.2" y="430.3" font-size="23.7" font-weight="bold" stroke="#111" stroke-width="0.3" stroke-linejoin="round" fill="#111" >E</text>
<text x="29.0" y="436.5" font-size="16.3" font-weight="bold" textLength="234.5" lengthAdjust="spacingAndGlyphs" fill="#111" >GLUCOSE TOLERANCE TEST</text>
<line x1="98.25" y1="492.40" x2="98.25" y2="494.70" stroke="#141414" stroke-width="1.1" stroke-linecap="butt"/>
<line x1="93.75" y1="492.40" x2="102.75" y2="492.40" stroke="#141414" stroke-width="1.1" stroke-linecap="butt"/>
<path d="M90.20,588.10 V495.30 H106.30 V588.10" fill="#fff" stroke="#0c0c0c" stroke-width="1.8" stroke-linejoin="miter"/>
<line x1="124.90" y1="474.60" x2="124.90" y2="479.10" stroke="#141414" stroke-width="1.1" stroke-linecap="butt"/>
<line x1="120.40" y1="474.60" x2="129.40" y2="474.60" stroke="#141414" stroke-width="1.1" stroke-linecap="butt"/>
<rect x="116.10" y="478.80" width="17.60" height="109.30" fill="#000"/>
<line x1="168.90" y1="495.00" x2="168.90" y2="500.00" stroke="#141414" stroke-width="1.1" stroke-linecap="butt"/>
<line x1="164.40" y1="495.00" x2="173.40" y2="495.00" stroke="#141414" stroke-width="1.1" stroke-linecap="butt"/>
<path d="M161.00,588.10 V500.60 H176.80 V588.10" fill="#fff" stroke="#0c0c0c" stroke-width="1.8" stroke-linejoin="miter"/>
<line x1="195.35" y1="484.40" x2="195.35" y2="486.60" stroke="#141414" stroke-width="1.1" stroke-linecap="butt"/>
<line x1="190.85" y1="484.40" x2="199.85" y2="484.40" stroke="#141414" stroke-width="1.1" stroke-linecap="butt"/>
<rect x="186.40" y="486.30" width="17.90" height="101.80" fill="#000"/>
<line x1="81.30" y1="455.90" x2="81.30" y2="588.70" stroke="#141414" stroke-width="1.3" stroke-linecap="butt"/>
<line x1="75.00" y1="588.10" x2="212.50" y2="588.10" stroke="#141414" stroke-width="1.3" stroke-linecap="butt"/>
<line x1="75.00" y1="456.50" x2="81.30" y2="456.50" stroke="#141414" stroke-width="1.2" stroke-linecap="butt"/>
<text x="73.1" y="459.4" font-size="9.8" font-weight="bold" stroke="#111" stroke-width="0.1" stroke-linejoin="round" text-anchor="end" textLength="26.4" lengthAdjust="spacingAndGlyphs" fill="#111" >20000</text>
<line x1="75.00" y1="489.30" x2="81.30" y2="489.30" stroke="#141414" stroke-width="1.2" stroke-linecap="butt"/>
<text x="73.1" y="492.2" font-size="9.8" font-weight="bold" stroke="#111" stroke-width="0.1" stroke-linejoin="round" text-anchor="end" textLength="26.4" lengthAdjust="spacingAndGlyphs" fill="#111" >15000</text>
<line x1="75.00" y1="522.20" x2="81.30" y2="522.20" stroke="#141414" stroke-width="1.2" stroke-linecap="butt"/>
<text x="73.1" y="525.1" font-size="9.8" font-weight="bold" stroke="#111" stroke-width="0.1" stroke-linejoin="round" text-anchor="end" textLength="26.4" lengthAdjust="spacingAndGlyphs" fill="#111" >10000</text>
<line x1="75.00" y1="555.00" x2="81.30" y2="555.00" stroke="#141414" stroke-width="1.2" stroke-linecap="butt"/>
<text x="73.1" y="557.9" font-size="9.8" font-weight="bold" stroke="#111" stroke-width="0.1" stroke-linejoin="round" text-anchor="end" textLength="21.1" lengthAdjust="spacingAndGlyphs" fill="#111" >5000</text>
<line x1="75.00" y1="587.90" x2="81.30" y2="587.90" stroke="#141414" stroke-width="1.2" stroke-linecap="butt"/>
<text x="73.1" y="590.8" font-size="9.8" font-weight="bold" stroke="#111" stroke-width="0.1" stroke-linejoin="round" text-anchor="end" textLength="5.3" lengthAdjust="spacingAndGlyphs" fill="#111" >0</text>
<line x1="111.80" y1="588.10" x2="111.80" y2="593.30" stroke="#141414" stroke-width="1.2" stroke-linecap="butt"/>
<line x1="181.80" y1="588.10" x2="181.80" y2="593.30" stroke="#141414" stroke-width="1.2" stroke-linecap="butt"/>
<text x="93.7" y="603.5" font-size="10.1" font-weight="bold" textLength="34.9" lengthAdjust="spacingAndGlyphs" fill="#111" >MALES</text>
<text x="157.5" y="603.5" font-size="10.1" font-weight="bold" textLength="47.4" lengthAdjust="spacingAndGlyphs" fill="#111" >FEMALES</text>
<text x="136.6" y="620.4" font-size="10.8" font-weight="bold" textLength="20.0" lengthAdjust="spacingAndGlyphs" fill="#2a2a2a" >SEX</text>
<text x="0" y="0" font-size="15.8" font-weight="bold" text-anchor="middle" textLength="131.0" lengthAdjust="spacingAndGlyphs" transform="translate(37.6,521.7) rotate(-90)" fill="#111" >Area under curve</text>
<rect x="243.30" y="461.70" width="12.40" height="6.20" fill="#fff" stroke="#0c0c0c" stroke-width="1.6"/>
<rect x="242.60" y="478.30" width="13.80" height="7.60" fill="#000"/>
<text x="264.5" y="468.4" font-size="11.5" stroke="#1a1a1a" stroke-width="0.1" stroke-linejoin="round" textLength="51.5" lengthAdjust="spacingAndGlyphs" fill="#1a1a1a" >CONTROL</text>
<text x="264.5" y="485.9" font-size="11.5" stroke="#1a1a1a" stroke-width="0.1" stroke-linejoin="round" textLength="67.3" lengthAdjust="spacingAndGlyphs" fill="#1a1a1a" >SACCHARINE</text>
<text x="117.0" y="464.6" font-size="17.0" textLength="18.0" lengthAdjust="spacingAndGlyphs" fill="#222" >##</text>
<text x="190.4" y="473.6" font-size="17.0" textLength="10.0" lengthAdjust="spacingAndGlyphs" fill="#222" >#</text>
<text x="346.6" y="430.3" font-size="23.7" font-weight="bold" stroke="#111" stroke-width="0.3" stroke-linejoin="round" fill="#111" >F</text>
<text x="386.0" y="436.5" font-size="16.3" font-weight="bold" textLength="216.8" lengthAdjust="spacingAndGlyphs" fill="#111" >INSULIN TOLERANCE TEST</text>
<line x1="446.65" y1="520.60" x2="446.65" y2="524.20" stroke="#141414" stroke-width="1.1" stroke-linecap="butt"/>
<line x1="442.15" y1="520.60" x2="451.15" y2="520.60" stroke="#141414" stroke-width="1.1" stroke-linecap="butt"/>
<path d="M438.90,588.10 V524.80 H454.40 V588.10" fill="#fff" stroke="#0c0c0c" stroke-width="1.8" stroke-linejoin="miter"/>
<line x1="473.45" y1="497.30" x2="473.45" y2="506.50" stroke="#141414" stroke-width="1.1" stroke-linecap="butt"/>
<line x1="468.95" y1="497.30" x2="477.95" y2="497.30" stroke="#141414" stroke-width="1.1" stroke-linecap="butt"/>
<rect x="464.90" y="506.20" width="17.10" height="81.90" fill="#000"/>
<line x1="517.40" y1="524.30" x2="517.40" y2="528.00" stroke="#141414" stroke-width="1.1" stroke-linecap="butt"/>
<line x1="512.90" y1="524.30" x2="521.90" y2="524.30" stroke="#141414" stroke-width="1.1" stroke-linecap="butt"/>
<path d="M509.70,588.10 V528.60 H525.10 V588.10" fill="#fff" stroke="#0c0c0c" stroke-width="1.8" stroke-linejoin="miter"/>
<line x1="543.90" y1="504.80" x2="543.90" y2="511.00" stroke="#141414" stroke-width="1.1" stroke-linecap="butt"/>
<line x1="539.40" y1="504.80" x2="548.40" y2="504.80" stroke="#141414" stroke-width="1.1" stroke-linecap="butt"/>
<rect x="535.10" y="510.70" width="17.60" height="77.40" fill="#000"/>
<line x1="429.70" y1="455.90" x2="429.70" y2="588.70" stroke="#141414" stroke-width="1.3" stroke-linecap="butt"/>
<line x1="423.40" y1="588.10" x2="561.50" y2="588.10" stroke="#141414" stroke-width="1.3" stroke-linecap="butt"/>
<line x1="423.40" y1="456.50" x2="429.70" y2="456.50" stroke="#141414" stroke-width="1.2" stroke-linecap="butt"/>
<text x="421.5" y="459.4" font-size="9.8" font-weight="bold" stroke="#111" stroke-width="0.1" stroke-linejoin="round" text-anchor="end" textLength="27.0" lengthAdjust="spacingAndGlyphs" fill="#111" >15000</text>
<line x1="423.40" y1="499.50" x2="429.70" y2="499.50" stroke="#141414" stroke-width="1.2" stroke-linecap="butt"/>
<text x="421.5" y="502.4" font-size="9.8" font-weight="bold" stroke="#111" stroke-width="0.1" stroke-linejoin="round" text-anchor="end" textLength="27.0" lengthAdjust="spacingAndGlyphs" fill="#111" >10000</text>
<line x1="423.40" y1="543.70" x2="429.70" y2="543.70" stroke="#141414" stroke-width="1.2" stroke-linecap="butt"/>
<text x="421.5" y="546.6" font-size="9.8" font-weight="bold" stroke="#111" stroke-width="0.1" stroke-linejoin="round" text-anchor="end" textLength="21.6" lengthAdjust="spacingAndGlyphs" fill="#111" >5000</text>
<line x1="423.40" y1="587.90" x2="429.70" y2="587.90" stroke="#141414" stroke-width="1.2" stroke-linecap="butt"/>
<text x="421.5" y="590.8" font-size="9.8" font-weight="bold" stroke="#111" stroke-width="0.1" stroke-linejoin="round" text-anchor="end" textLength="5.4" lengthAdjust="spacingAndGlyphs" fill="#111" >0</text>
<line x1="459.80" y1="588.10" x2="459.80" y2="593.30" stroke="#141414" stroke-width="1.2" stroke-linecap="butt"/>
<line x1="530.10" y1="588.10" x2="530.10" y2="593.30" stroke="#141414" stroke-width="1.2" stroke-linecap="butt"/>
<text x="441.8" y="603.5" font-size="10.1" font-weight="bold" textLength="34.8" lengthAdjust="spacingAndGlyphs" fill="#111" >MALES</text>
<text x="505.5" y="603.5" font-size="10.1" font-weight="bold" textLength="47.5" lengthAdjust="spacingAndGlyphs" fill="#111" >FEMALES</text>
<text x="484.6" y="620.4" font-size="10.8" font-weight="bold" textLength="20.0" lengthAdjust="spacingAndGlyphs" fill="#2a2a2a" >SEX</text>
<text x="0" y="0" font-size="15.8" font-weight="bold" text-anchor="middle" textLength="131.0" lengthAdjust="spacingAndGlyphs" transform="translate(384.5,521.7) rotate(-90)" fill="#111" >Area under curve</text>
<rect x="591.60" y="461.70" width="12.40" height="6.20" fill="#fff" stroke="#0c0c0c" stroke-width="1.6"/>
<rect x="590.90" y="478.30" width="13.80" height="7.60" fill="#000"/>
<text x="612.7" y="468.4" font-size="11.5" stroke="#1a1a1a" stroke-width="0.1" stroke-linejoin="round" textLength="51.8" lengthAdjust="spacingAndGlyphs" fill="#1a1a1a" >CONTROL</text>
<text x="612.7" y="485.9" font-size="11.5" stroke="#1a1a1a" stroke-width="0.1" stroke-linejoin="round" textLength="67.9" lengthAdjust="spacingAndGlyphs" fill="#1a1a1a" >SACCHARINE</text>
<text x="4.3" y="675.3" font-size="24.3" font-weight="bold" stroke="#161616" stroke-width="0.15" stroke-linejoin="round" textLength="17.3" lengthAdjust="spacingAndGlyphs" fill="#161616" >G</text>
<line x1="56.90" y1="741.60" x2="56.90" y2="748.60" stroke="#141414" stroke-width="1.2" stroke-linecap="butt"/>
<line x1="51.30" y1="741.60" x2="62.50" y2="741.60" stroke="#141414" stroke-width="1.2" stroke-linecap="butt"/>
<path d="M46.75,813.20 V749.05 H67.05 V813.20" fill="#fff" stroke="#0c0c0c" stroke-width="1.5" stroke-linejoin="miter"/>
<line x1="90.60" y1="729.10" x2="90.60" y2="734.60" stroke="#141414" stroke-width="1.2" stroke-linecap="butt"/>
<line x1="85.00" y1="729.10" x2="96.20" y2="729.10" stroke="#141414" stroke-width="1.2" stroke-linecap="butt"/>
<rect x="79.90" y="734.30" width="21.40" height="78.90" fill="#000"/>
<line x1="146.65" y1="732.80" x2="146.65" y2="738.70" stroke="#141414" stroke-width="1.2" stroke-linecap="butt"/>
<line x1="141.05" y1="732.80" x2="152.25" y2="732.80" stroke="#141414" stroke-width="1.2" stroke-linecap="butt"/>
<path d="M136.35,813.20 V739.15 H156.95 V813.20" fill="#fff" stroke="#0c0c0c" stroke-width="1.5" stroke-linejoin="miter"/>
<line x1="179.90" y1="707.00" x2="179.90" y2="715.30" stroke="#141414" stroke-width="1.2" stroke-linecap="butt"/>
<line x1="174.30" y1="707.00" x2="185.50" y2="707.00" stroke="#141414" stroke-width="1.2" stroke-linecap="butt"/>
<rect x="168.80" y="715.00" width="22.20" height="98.20" fill="#000"/>
<line x1="35.00" y1="701.40" x2="35.00" y2="813.80" stroke="#141414" stroke-width="1.2" stroke-linecap="butt"/>
<line x1="30.20" y1="813.20" x2="202.90" y2="813.20" stroke="#141414" stroke-width="1.2" stroke-linecap="butt"/>
<line x1="30.80" y1="702.00" x2="35.00" y2="702.00" stroke="#141414" stroke-width="1.2" stroke-linecap="butt"/>
<text x="29.5" y="706.7" font-size="13.0" font-weight="bold" text-anchor="end" textLength="12.8" lengthAdjust="spacingAndGlyphs" fill="#111" >80</text>
<line x1="30.80" y1="730.10" x2="35.00" y2="730.10" stroke="#141414" stroke-width="1.2" stroke-linecap="butt"/>
<text x="29.5" y="734.8" font-size="13.0" font-weight="bold" text-anchor="end" textLength="12.8" lengthAdjust="spacingAndGlyphs" fill="#111" >60</text>
<line x1="30.80" y1="757.50" x2="35.00" y2="757.50" stroke="#141414" stroke-width="1.2" stroke-linecap="butt"/>
<text x="29.5" y="762.2" font-size="13.0" font-weight="bold" text-anchor="end" textLength="12.8" lengthAdjust="spacingAndGlyphs" fill="#111" >40</text>
<line x1="30.80" y1="785.20" x2="35.00" y2="785.20" stroke="#141414" stroke-width="1.2" stroke-linecap="butt"/>
<text x="29.5" y="789.9" font-size="13.0" font-weight="bold" text-anchor="end" textLength="12.8" lengthAdjust="spacingAndGlyphs" fill="#111" >20</text>
<line x1="30.80" y1="813.20" x2="35.00" y2="813.20" stroke="#141414" stroke-width="1.2" stroke-linecap="butt"/>
<text x="29.5" y="817.9" font-size="13.0" font-weight="bold" text-anchor="end" textLength="6.4" lengthAdjust="spacingAndGlyphs" fill="#111" >0</text>
<line x1="73.60" y1="813.20" x2="73.60" y2="816.80" stroke="#141414" stroke-width="1.2" stroke-linecap="butt"/>
<line x1="163.90" y1="813.20" x2="163.90" y2="816.80" stroke="#141414" stroke-width="1.2" stroke-linecap="butt"/>
<text x="55.7" y="829.7" font-size="14.0" font-weight="bold" textLength="31.0" lengthAdjust="spacingAndGlyphs" fill="#111" >Male</text>
<text x="139.0" y="829.7" font-size="14.0" font-weight="bold" textLength="47.4" lengthAdjust="spacingAndGlyphs" fill="#111" >Female</text>
<text x="0" y="0" font-size="10.6" font-weight="bold" text-anchor="middle" textLength="83.0" lengthAdjust="spacingAndGlyphs" transform="translate(10.2,755.0) rotate(-90)" fill="#111" >Glucose (mg/dl)</text>
<text x="176.0" y="686.2" font-size="12.4" stroke="#222" stroke-width="0.25" stroke-linejoin="round" textLength="7.4" lengthAdjust="spacingAndGlyphs" fill="#222" >#</text>
<text x="177.0" y="701.0" font-size="12.0" font-weight="bold" textLength="5.0" lengthAdjust="spacingAndGlyphs" fill="#222" >*</text>
<text x="218.7" y="675.2" font-size="21.3" font-weight="bold" stroke="#161616" stroke-width="0.15" stroke-linejoin="round" fill="#161616" >H</text>
<line x1="281.55" y1="696.00" x2="281.55" y2="712.80" stroke="#141414" stroke-width="1.2" stroke-linecap="butt"/>
<line x1="275.35" y1="696.00" x2="287.75" y2="696.00" stroke="#141414" stroke-width="1.2" stroke-linecap="butt"/>
<path d="M269.65,813.70 V713.05 H293.45 V813.70" fill="#fff" stroke="#0c0c0c" stroke-width="1.1" stroke-linejoin="miter"/>
<line x1="318.10" y1="740.00" x2="318.10" y2="749.80" stroke="#141414" stroke-width="1.2" stroke-linecap="butt"/>
<line x1="311.90" y1="740.00" x2="324.30" y2="740.00" stroke="#141414" stroke-width="1.2" stroke-linecap="butt"/>
<rect x="305.50" y="749.50" width="25.20" height="64.20" fill="#000"/>
<line x1="379.25" y1="704.50" x2="379.25" y2="718.30" stroke="#141414" stroke-width="1.2" stroke-linecap="butt"/>
<line x1="373.05" y1="704.50" x2="385.45" y2="704.50" stroke="#141414" stroke-width="1.2" stroke-linecap="butt"/>
<path d="M367.75,813.70 V718.55 H390.75 V813.70" fill="#fff" stroke="#0c0c0c" stroke-width="1.1" stroke-linejoin="miter"/>
<line x1="415.90" y1="727.90" x2="415.90" y2="735.00" stroke="#141414" stroke-width="1.2" stroke-linecap="butt"/>
<line x1="409.70" y1="727.90" x2="422.10" y2="727.90" stroke="#141414" stroke-width="1.2" stroke-linecap="butt"/>
<rect x="403.60" y="734.70" width="24.60" height="79.00" fill="#000"/>
<line x1="256.40" y1="690.90" x2="256.40" y2="814.30" stroke="#141414" stroke-width="1.2" stroke-linecap="butt"/>
<line x1="253.00" y1="813.70" x2="440.80" y2="813.70" stroke="#141414" stroke-width="1.2" stroke-linecap="butt"/>
<line x1="253.00" y1="691.50" x2="256.40" y2="691.50" stroke="#141414" stroke-width="1.2" stroke-linecap="butt"/>
<text x="251.7" y="695.8" font-size="12.0" font-weight="bold" text-anchor="end" textLength="6.4" lengthAdjust="spacingAndGlyphs" fill="#111" >5</text>
<line x1="253.00" y1="716.40" x2="256.40" y2="716.40" stroke="#141414" stroke-width="1.2" stroke-linecap="butt"/>
<text x="251.7" y="720.7" font-size="12.0" font-weight="bold" text-anchor="end" textLength="6.4" lengthAdjust="spacingAndGlyphs" fill="#111" >4</text>
<line x1="253.00" y1="740.50" x2="256.40" y2="740.50" stroke="#141414" stroke-width="1.2" stroke-linecap="butt"/>
<text x="251.7" y="744.8" font-size="12.0" font-weight="bold" text-anchor="end" textLength="6.4" lengthAdjust="spacingAndGlyphs" fill="#111" >3</text>
<line x1="253.00" y1="764.50" x2="256.40" y2="764.50" stroke="#141414" stroke-width="1.2" stroke-linecap="butt"/>
<text x="251.7" y="768.8" font-size="12.0" font-weight="bold" text-anchor="end" textLength="6.4" lengthAdjust="spacingAndGlyphs" fill="#111" >2</text>
<line x1="253.00" y1="789.00" x2="256.40" y2="789.00" stroke="#141414" stroke-width="1.2" stroke-linecap="butt"/>
<text x="251.7" y="793.3" font-size="12.0" font-weight="bold" text-anchor="end" textLength="6.4" lengthAdjust="spacingAndGlyphs" fill="#111" >1</text>
<line x1="253.00" y1="813.70" x2="256.40" y2="813.70" stroke="#141414" stroke-width="1.2" stroke-linecap="butt"/>
<text x="251.7" y="818.0" font-size="12.0" font-weight="bold" text-anchor="end" textLength="6.4" lengthAdjust="spacingAndGlyphs" fill="#111" >0</text>
<line x1="300.10" y1="813.70" x2="300.10" y2="817.30" stroke="#141414" stroke-width="1.2" stroke-linecap="butt"/>
<line x1="396.80" y1="813.70" x2="396.80" y2="817.30" stroke="#141414" stroke-width="1.2" stroke-linecap="butt"/>
<text x="280.4" y="832.0" font-size="15.0" font-weight="bold" textLength="33.6" lengthAdjust="spacingAndGlyphs" fill="#111" >Male</text>
<text x="370.9" y="832.0" font-size="15.0" font-weight="bold" textLength="52.1" lengthAdjust="spacingAndGlyphs" fill="#111" >Female</text>
<text x="0" y="0" font-size="11.6" font-weight="bold" text-anchor="middle" textLength="79.0" lengthAdjust="spacingAndGlyphs" transform="translate(238.2,751.1) rotate(-90)" fill="#111" >Insulin (ng/ml)</text>
<text x="313.6" y="727.9" font-size="14.4" stroke="#222" stroke-width="0.25" stroke-linejoin="round" textLength="7.9" lengthAdjust="spacingAndGlyphs" fill="#222" >#</text>
<text x="451.0" y="674.8" font-size="22.6" font-weight="bold" stroke="#161616" stroke-width="0.15" stroke-linejoin="round" fill="#161616" >I</text>
<line x1="520.55" y1="733.30" x2="520.55" y2="739.80" stroke="#141414" stroke-width="1.2" stroke-linecap="butt"/>
<line x1="514.30" y1="733.30" x2="526.80" y2="733.30" stroke="#141414" stroke-width="1.2" stroke-linecap="butt"/>
<path d="M509.15,813.70 V740.05 H531.95 V813.70" fill="#fff" stroke="#0c0c0c" stroke-width="1.1" stroke-linejoin="miter"/>
<line x1="557.15" y1="711.20" x2="557.15" y2="719.20" stroke="#141414" stroke-width="1.2" stroke-linecap="butt"/>
<line x1="550.90" y1="711.20" x2="563.40" y2="711.20" stroke="#141414" stroke-width="1.2" stroke-linecap="butt"/>
<rect x="545.00" y="718.90" width="24.30" height="94.80" fill="#000"/>
<line x1="618.15" y1="722.50" x2="618.15" y2="727.50" stroke="#141414" stroke-width="1.2" stroke-linecap="butt"/>
<line x1="611.90" y1="722.50" x2="624.40" y2="722.50" stroke="#141414" stroke-width="1.2" stroke-linecap="butt"/>
<path d="M606.55,813.70 V727.75 H629.75 V813.70" fill="#fff" stroke="#0c0c0c" stroke-width="1.1" stroke-linejoin="miter"/>
<line x1="654.85" y1="725.50" x2="654.85" y2="731.10" stroke="#141414" stroke-width="1.2" stroke-linecap="butt"/>
<line x1="648.60" y1="725.50" x2="661.10" y2="725.50" stroke="#141414" stroke-width="1.2" stroke-linecap="butt"/>
<rect x="642.90" y="730.80" width="23.90" height="82.90" fill="#000"/>
<line x1="496.10" y1="691.00" x2="496.10" y2="814.30" stroke="#141414" stroke-width="1.2" stroke-linecap="butt"/>
<line x1="491.60" y1="813.70" x2="680.10" y2="813.70" stroke="#141414" stroke-width="1.2" stroke-linecap="butt"/>
<line x1="491.60" y1="691.60" x2="496.10" y2="691.60" stroke="#141414" stroke-width="1.2" stroke-linecap="butt"/>
<text x="490.3" y="696.0" font-size="12.2" font-weight="bold" text-anchor="end" textLength="13.7" lengthAdjust="spacingAndGlyphs" fill="#111" >40</text>
<line x1="491.60" y1="722.40" x2="496.10" y2="722.40" stroke="#141414" stroke-width="1.2" stroke-linecap="butt"/>
<text x="490.3" y="726.8" font-size="12.2" font-weight="bold" text-anchor="end" textLength="13.7" lengthAdjust="spacingAndGlyphs" fill="#111" >30</text>
<line x1="491.60" y1="752.90" x2="496.10" y2="752.90" stroke="#141414" stroke-width="1.2" stroke-linecap="butt"/>
<text x="490.3" y="757.3" font-size="12.2" font-weight="bold" text-anchor="end" textLength="13.7" lengthAdjust="spacingAndGlyphs" fill="#111" >20</text>
<line x1="491.60" y1="783.20" x2="496.10" y2="783.20" stroke="#141414" stroke-width="1.2" stroke-linecap="butt"/>
<text x="490.3" y="787.6" font-size="12.2" font-weight="bold" text-anchor="end" textLength="13.7" lengthAdjust="spacingAndGlyphs" fill="#111" >10</text>
<line x1="491.60" y1="813.70" x2="496.10" y2="813.70" stroke="#141414" stroke-width="1.2" stroke-linecap="butt"/>
<text x="490.3" y="818.1" font-size="12.2" font-weight="bold" text-anchor="end" textLength="6.8" lengthAdjust="spacingAndGlyphs" fill="#111" >0</text>
<line x1="538.30" y1="813.70" x2="538.30" y2="817.30" stroke="#141414" stroke-width="1.2" stroke-linecap="butt"/>
<line x1="636.10" y1="813.70" x2="636.10" y2="817.30" stroke="#141414" stroke-width="1.2" stroke-linecap="butt"/>
<text x="519.4" y="832.0" font-size="15.2" font-weight="bold" textLength="33.8" lengthAdjust="spacingAndGlyphs" fill="#111" >Male</text>
<text x="609.8" y="832.0" font-size="15.2" font-weight="bold" textLength="52.6" lengthAdjust="spacingAndGlyphs" fill="#111" >Female</text>
<text x="0" y="0" font-size="11.8" font-weight="bold" text-anchor="middle" textLength="77.6" lengthAdjust="spacingAndGlyphs" transform="translate(468.6,750.5) rotate(-90)" fill="#111" >GLP-1 (pg/ml)</text>
<rect x="594.60" y="642.70" width="16.20" height="6.70" fill="#fff" stroke="#0c0c0c" stroke-width="1.4"/>
<rect x="593.90" y="664.40" width="17.60" height="7.80" fill="#000"/>
<text x="621.0" y="650.0" font-size="13.8" textLength="43.4" lengthAdjust="spacingAndGlyphs" fill="#1a1a1a" >Control</text>
<text x="621.0" y="671.9" font-size="13.8" textLength="58.6" lengthAdjust="spacingAndGlyphs" fill="#1a1a1a" >Saccharin</text>
</svg>
</body></html>
